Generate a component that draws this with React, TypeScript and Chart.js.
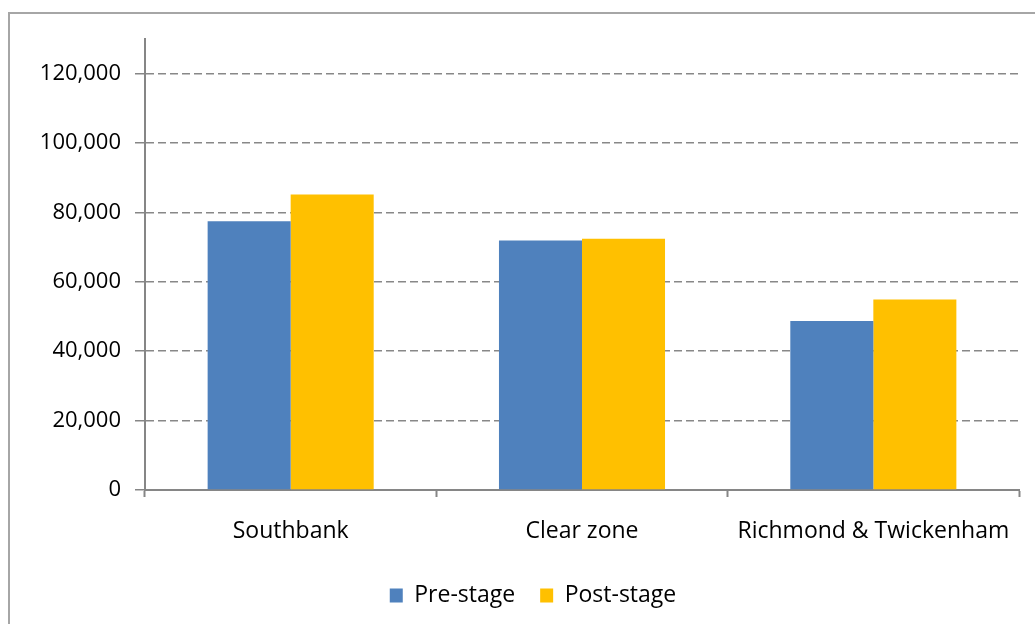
import React, { useEffect, useRef } from "react";
import { Chart, registerables } from "chart.js";

Chart.register(...registerables);

const categories = ["Southbank", "Clear zone", "Richmond & Twickenham"];
const seriesNames = ["Pre-stage", "Post-stage"];
const preStage = [77500, 71900, 48700];
const postStage = [85200, 72400, 54900];
const yTickValues = [0, 20000, 40000, 60000, 80000, 100000, 120000];
const yMin = 0;
const yMax = 130000;

const FONT = "'Open Sans', 'DejaVu Sans', sans-serif";

// Shift the legend block so that it is centred where the original one is.
const legendShift = {
  id: "legendShift",
  afterLayout(chart: any) {
    const l = chart.legend;
    if (l) {
      l.left += 23.5;
      l.right += 23.5;
    }
  },
};

export default function App() {
  const ref = useRef<HTMLCanvasElement>(null);

  useEffect(() => {
    if (!ref.current) return;
    const chart = new Chart(ref.current, {
      type: "bar",
      data: {
        labels: categories,
        datasets: [
          {
            label: seriesNames[0],
            data: preStage,
            backgroundColor: "#4F81BD",
            borderWidth: 0,
            categoryPercentage: 0.57,
            barPercentage: 1,
          },
          {
            label: seriesNames[1],
            data: postStage,
            backgroundColor: "#FFC000",
            borderWidth: 0,
            categoryPercentage: 0.57,
            barPercentage: 1,
          },
        ],
      },
      plugins: [legendShift],
      options: {
        responsive: false,
        animation: false,
        layout: { padding: { left: 0, right: 16, top: 39, bottom: 0 } },
        plugins: {
          tooltip: { enabled: false },
          legend: {
            position: "bottom",
            labels: {
              boxWidth: 13,
              boxHeight: 14,
              padding: 25,
              color: "#000",
              font: { family: FONT, size: 23 },
            },
          },
        },
        scales: {
          x: {
            grid: {
              offset: true,
              drawOnChartArea: false,
              drawTicks: true,
              tickLength: 7,
              tickColor: "#868686",
              tickWidth: 2,
            },
            border: { color: "#868686", width: 2 },
            ticks: {
              color: "#000",
              padding: 21,
              font: { family: FONT, size: 23 },
              maxRotation: 0,
            },
            afterFit: (s: any) => {
              s.height = 69;
            },
          },
          y: {
            min: yMin,
            max: yMax,
            grid: {
              color: "#888888",
              lineWidth: 1.5,
              drawTicks: true,
              tickLength: 10,
              tickColor: "#868686",
              tickWidth: 1.5,
              tickBorderDash: [],
            },
            border: { color: "#868686", width: 2, dash: [8, 4] },
            ticks: {
              color: "#000",
              padding: 14,
              font: { family: FONT, size: 22 },
              callback: (v: any) => Number(v).toLocaleString("en-US"),
            },
            afterBuildTicks: (s: any) => {
              s.ticks = yTickValues.map((v) => ({ value: v }));
            },
            afterFit: (s: any) => {
              s.width = 145;
            },
          },
        },
      },
    });
    return () => chart.destroy();
  }, []);

  return (
    <div
      style={{
        position: "fixed",
        left: 0,
        top: 0,
        width: 1035,
        height: 624,
        overflow: "hidden",
        background: "#fff",
      }}
    >
      <div
        style={{
          position: "absolute",
          left: 8,
          top: 12,
          width: 1100,
          height: 700,
          border: "2px solid #a6a6a6",
          boxSizing: "border-box",
        }}
      />
      <canvas
        ref={ref}
        width={1035}
        height={617}
        style={{ position: "absolute", left: 0, top: 0, width: 1035, height: 617 }}
      />
    </div>
  );
}
